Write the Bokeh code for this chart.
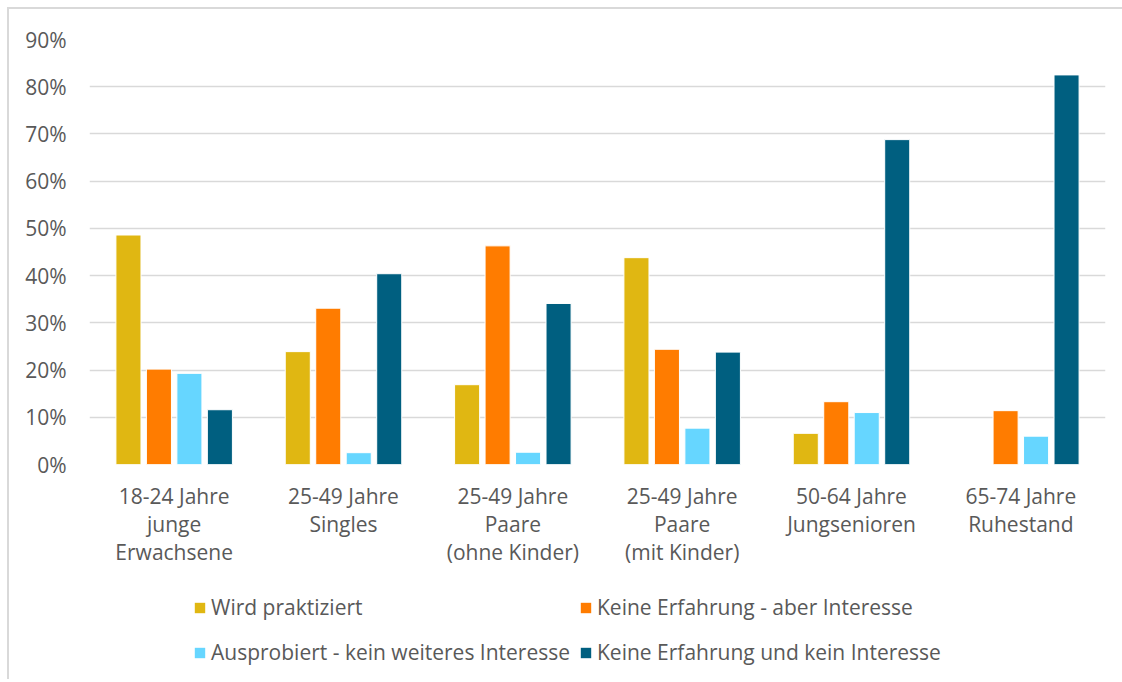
from bokeh.plotting import figure
from bokeh.models import (ColumnDataSource, FactorRange, Range1d, FixedTicker,
                          NumeralTickFormatter, Legend, LegendItem)
from bokeh.layouts import column
from bokeh.transform import dodge
from bokeh.embed import file_html
from bokeh.resources import INLINE

categories = ["18-24 Jahre\njunge\nErwachsene", "25-49 Jahre\nSingles",
              "25-49 Jahre\nPaare\n(ohne Kinder)", "25-49 Jahre\nPaare\n(mit Kinder)",
              "50-64 Jahre\nJungsenioren", "65-74 Jahre\nRuhestand"]
series_names = ["Wird praktiziert", "Keine Erfahrung - aber Interesse",
                "Ausprobiert - kein weiteres Interesse", "Keine Erfahrung und kein Interesse"]
wird = [0.486, 0.239, 0.169, 0.438, 0.066, 0.0]
keine_aber = [0.202, 0.331, 0.463, 0.244, 0.133, 0.114]
ausprobiert = [0.193, 0.025, 0.026, 0.077, 0.110, 0.060]
keine_kein = [0.116, 0.404, 0.341, 0.238, 0.688, 0.825]
y_ticks = [0.0, 0.1, 0.2, 0.3, 0.4, 0.5, 0.6, 0.7, 0.8, 0.9]

colors = ["#E0B712", "#FF7C00", "#66D6FF", "#005F80"]
FONT = "Open Sans"
TXT = "#595959"
FS = "21px"

src = ColumnDataSource(dict(cat=categories, s0=wird, s1=keine_aber, s2=ausprobiert, s3=keine_kein))

p = figure(x_range=FactorRange(*categories), y_range=Range1d(0, 0.9),
           width=1113, height=575, output_backend="svg", toolbar_location=None,
           min_border_left=80, min_border_right=17, min_border_top=30, min_border_bottom=120)
p.outline_line_color = None
p.background_fill_color = "white"
p.border_fill_color = "white"

offsets = [-0.27, -0.09, 0.09, 0.27]
for i, off in enumerate(offsets):
    p.vbar(x=dodge("cat", off, range=p.x_range), top="s%d" % i, width=0.148, source=src,
           fill_color=colors[i], line_color="white", line_width=1)

p.yaxis.ticker = FixedTicker(ticks=y_ticks)
p.yaxis.formatter = NumeralTickFormatter(format="0%")
p.ygrid.ticker = FixedTicker(ticks=y_ticks)
p.ygrid.grid_line_color = "#D9D9D9"
p.ygrid.grid_line_width = 1.5
p.xgrid.grid_line_color = None

for ax in (p.xaxis, p.yaxis):
    ax.axis_line_color = None
    ax.major_tick_line_color = None
    ax.minor_tick_line_color = None
    ax.major_label_text_font = FONT
    ax.major_label_text_font_size = FS
    ax.major_label_text_color = TXT
p.yaxis.major_label_standoff = 17
p.xaxis.major_label_standoff = 11
p.xaxis.major_label_text_line_height = 1.0

# legend figure: same series drawn against a range where they are not visible,
# only used as legend entries
lg = figure(x_range=FactorRange(*categories), y_range=Range1d(5, 6),
            width=1113, height=95, output_backend="svg", toolbar_location=None,
            x_axis_location=None, y_axis_location=None,
            min_border_left=0, min_border_right=0, min_border_top=0, min_border_bottom=0)
lg.outline_line_color = None
lg.grid.visible = False
lg.background_fill_color = "white"
lg.border_fill_color = "white"
dummies = [lg.vbar(x="cat", top="s%d" % i, width=0.1, source=src,
                   fill_color=colors[i], line_color=None) for i in range(4)]

def make_legend(idx, x):
    leg = Legend(items=[LegendItem(label=series_names[i], renderers=[dummies[i]]) for i in idx],
                 location=(x, 13), orientation="vertical")
    leg.label_text_font = FONT
    leg.label_text_font_size = FS
    leg.label_text_color = TXT
    leg.glyph_width = 13
    leg.glyph_height = 13
    leg.label_height = 20
    leg.label_standoff = 5
    leg.spacing = 17
    leg.border_line_color = None
    leg.background_fill_alpha = 0
    leg.padding = 0
    leg.margin = 0
    return leg

lg.add_layout(make_legend([0, 2], 104), "center")
lg.add_layout(make_legend([1, 3], 490), "center")

layout = column(p, lg, spacing=0,
                styles={"margin-left": "7px", "margin-top": "7px",
                        "border-left": "2px solid #D9D9D9", "border-top": "2px solid #D9D9D9"})

open("out.html", "w").write(file_html(layout, INLINE))
